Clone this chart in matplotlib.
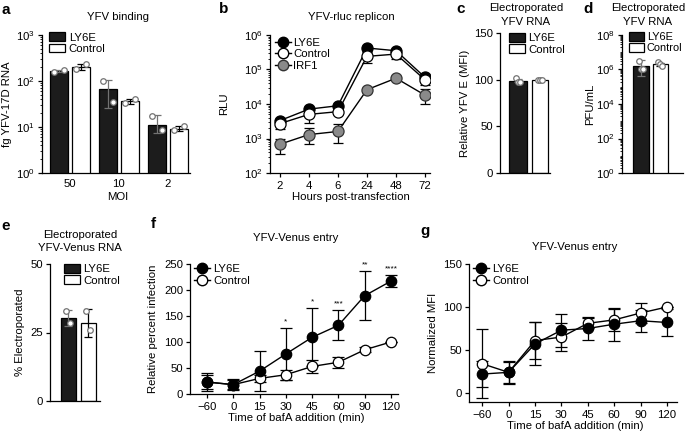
import numpy as np
import matplotlib
matplotlib.use("Agg")
import matplotlib.pyplot as plt
from matplotlib.patches import Patch
from matplotlib.lines import Line2D
from matplotlib.ticker import LogLocator, NullFormatter

FS = 8.2
plt.rcParams['font.family'] = ['Liberation Sans', 'DejaVu Sans']
plt.rcParams['font.size'] = FS
plt.rcParams['mathtext.fontset'] = 'custom'
plt.rcParams['mathtext.rm'] = 'Liberation Sans'
plt.rcParams['mathtext.default'] = 'regular'
plt.rcParams['axes.linewidth'] = 0.9
plt.rcParams['xtick.major.width'] = 0.9
plt.rcParams['ytick.major.width'] = 0.9
plt.rcParams['xtick.major.size'] = 3
plt.rcParams['ytick.major.size'] = 3
plt.rcParams['xtick.major.pad'] = 2
plt.rcParams['ytick.major.pad'] = 2

# ---- data ----
# a: YFV binding
moi = ["50", "10", "2"]
a_ly6e = [165, 66, 11]
a_ly6e_lo = [155, 26, 7.5]
a_ly6e_hi = [175, 106, 18]
a_ly6e_pts = [[158, 170], [100, 35], [17, 8.5]]
a_ctrl = [200, 36, 9]
a_ctrl_lo = [170, 31, 8]
a_ctrl_hi = [235, 41, 10.5]
a_ctrl_pts = [[185, 230], [33, 40], [8.5, 10.5]]

# b: YFV-rluc replicon
hours = ["2", "4", "6", "24", "48", "72"]
b_ly6e = [3300, 7100, 8900, 4.2e5, 3.5e5, 5.9e4]
b_ctrl = [2700, 5000, 6000, 2.4e5, 2.8e5, 5.0e4]
b_ctrl_lo = [1900, 2900, 5000, 1.5e5, 2.0e5, 3.5e4]
b_ctrl_hi = [3500, 7000, 7000, 3.3e5, 3.6e5, 6.5e4]
b_irf1 = [680, 1300, 1600, 2.6e4, 5.6e4, 1.8e4]
b_irf1_lo = [365, 680, 760, 2.2e4, 5.0e4, 1.0e4]
b_irf1_hi = [950, 1950, 2600, 3.0e4, 6.2e4, 2.7e4]

# c: electroporated YFV RNA (MFI)
c_vals = [99, 100]
c_err = [2, 0.5]
c_pts = [[102, 98, 98], [100, 100, 100]]

# d: electroporated YFV RNA (PFU)
d_vals = [1.7e6, 2.0e6]
d_lo = [4.0e5, 1.6e6]
d_hi = [3.5e6, 2.5e6]
d_pts = [[3.0e6, 1.0e6, 1.0e6], [2.6e6, 2.0e6, 1.7e6]]

# e: electroporated YFV-Venus RNA
e_vals = [30.3, 28.4]
e_err = [3, 5]
e_pts = [[33, 28.5], [33, 26]]

# f, g: YFV-Venus entry
times = ["\u221260", "0", "15", "30", "45", "60", "90", "120"]
f_ly6e = [23, 18, 44, 77, 109, 132, 189, 217]
f_ly6e_err = [18, 10, 39, 50, 56, 29, 47, 12]
f_ctrl = [23, 18, 30, 37, 53, 61, 85, 100]
f_ctrl_err = [14, 8, 6, 10, 13, 11, 5, 0]
f_stars = ["", "", "", "*", "*", "***", "**", "****"]

g_ly6e = [22, 24, 57, 73, 75, 80, 84, 82]
g_ly6e_err = [15, 12, 25, 19, 13, 19, 13, 16]
g_ctrl = [34, 24, 61, 65, 81, 85, 93, 100]
g_ctrl_err = [40, 13, 21, 16, 6, 13, 12, 0]

W, H = 685, 434
DARK = '#1c1c1c'
GREY = '#8a8a8a'

fig = plt.figure(figsize=(W / 100, H / 100), dpi=100)


def box(l, t, r, b):
    ax = fig.add_axes([l / W, 1 - b / H, (r - l) / W, (b - t) / H])
    ax.spines['top'].set_visible(False)
    ax.spines['right'].set_visible(False)
    ax._px = (l, t, r, b)
    return ax


def ftext(x, y, s, **kw):
    fig.text(x / W, 1 - y / H, s, ha='center', va='center', **kw)


def ylab(ax, s, px):
    l, t, r, b = ax._px
    ftext(px, (t + b) / 2, s, rotation=90)


def bar_pts(ax, x, vals, lo, hi, pts, face, ecol, width):
    ax.bar(x, vals, width, color=face, edgecolor='k', linewidth=0.9, zorder=1)
    vals = np.array(vals, float)
    ax.errorbar(x, vals, yerr=[vals - np.array(lo), np.array(hi) - vals], fmt='none',
                ecolor=ecol, elinewidth=0.9, capsize=3, capthick=0.9, zorder=2)
    for xi, p in zip(x, pts):
        offs = np.linspace(-0.1, 0.1, len(p)) if len(p) > 1 else [0]
        ax.plot(xi + np.array(offs), p, 'o', ms=4, mfc='white', mec='0.45', mew=0.9, zorder=3)


def bar_legend(ax, anchor, fs=FS, hlen=1.4):
    h = [Patch(facecolor=DARK, edgecolor='k', lw=0.9), Patch(facecolor='white', edgecolor='k', lw=0.9)]
    ax.legend(h, ['LY6E', 'Control'], loc='upper left', bbox_to_anchor=anchor, frameon=False,
              handlelength=hlen, handleheight=0.8, handletextpad=0.3, labelspacing=0.1,
              borderaxespad=0, borderpad=0, fontsize=fs)


def log_minor(ax, sub=np.arange(2, 10)):
    ax.yaxis.set_minor_locator(LogLocator(base=10, subs=sub, numticks=20))
    ax.yaxis.set_minor_formatter(NullFormatter())
    ax.tick_params(axis='y', which='minor', length=1.5, width=0.6)


# ---- a ----
ax = box(42, 35, 190, 173)
xa = np.arange(3)
bar_pts(ax, xa - 0.225, a_ly6e, a_ly6e_lo, a_ly6e_hi, a_ly6e_pts, DARK, '0.45', 0.37)
bar_pts(ax, xa + 0.225, a_ctrl, a_ctrl_lo, a_ctrl_hi, a_ctrl_pts, 'white', 'k', 0.37)
ax.set_yscale('log')
ax.set_ylim(1, 1000)
ax.set_yticks([1, 10, 100, 1000])
log_minor(ax)
ax.set_xlim(-0.57, 2.45)
ax.set_xticks(xa)
ax.set_xticklabels(moi)
ax.tick_params(axis='x', length=0, pad=4)
bar_legend(ax, (0.05, 1.02))
ftext(118, 17, 'YFV binding')
ftext(118, 197, 'MOI')
ylab(ax, 'fg YFV-17D RNA', 7)

# ---- b ----
ax = box(270, 35, 430, 173)
xb = np.arange(len(hours))
mk = dict(ms=8, mew=0.9, lw=1.0, zorder=3)
eb = dict(fmt='none', ecolor='k', elinewidth=0.9, capsize=3.5, capthick=0.9, zorder=2)
ax.errorbar(xb, b_irf1, yerr=[np.array(b_irf1) - b_irf1_lo, np.array(b_irf1_hi) - b_irf1], **eb)
ax.errorbar(xb, b_ctrl, yerr=[np.array(b_ctrl) - b_ctrl_lo, np.array(b_ctrl_hi) - b_ctrl], **eb)
ax.plot(xb, b_irf1, 'o-', color='k', mfc=GREY, mec='#333333', label='IRF1', **mk)
ax.plot(xb, b_ly6e, 'o-', color='k', mfc='k', mec='k', label='LY6E', **mk)
ax.plot(xb, b_ctrl, 'o-', color='k', mfc='white', mec='k', label='Control', **mk)
ax.set_yscale('log')
ax.set_ylim(100, 1e6)
ax.set_yticks([1e2, 1e3, 1e4, 1e5, 1e6])
log_minor(ax)
ax.set_xlim(-0.34, 5.17)
ax.set_xticks(xb)
ax.set_xticklabels(hours)
ax.tick_params(axis='x', pad=3)
hl = [Line2D([], [], color='k', marker='o', mfc=c, mec=e, ms=7.5, lw=1.0)
      for c, e in [('k', 'k'), ('white', 'k'), (GREY, '#333333')]]
ax.legend(hl, ['LY6E', 'Control', 'IRF1'], loc='upper left', bbox_to_anchor=(0.03, 0.98),
          frameon=False, handlelength=1.4, handletextpad=0.2, labelspacing=0.15,
          borderaxespad=0, borderpad=0, fontsize=FS)
ftext(351, 17, 'YFV-rluc replicon')
ftext(351, 197, 'Hours post-transfection')
ylab(ax, 'RLU', 224)

# ---- c ----
ax = box(500, 33, 550, 173)
xc = np.arange(2)
bar_pts(ax, xc[:1], c_vals[:1], [c_vals[0] - c_err[0]], [c_vals[0] + c_err[0]], c_pts[:1], DARK, '0.45', 0.78)
bar_pts(ax, xc[1:], c_vals[1:], [c_vals[1] - c_err[1]], [c_vals[1] + c_err[1]], c_pts[1:], 'white', 'k', 0.7)
ax.set_ylim(0, 150)
ax.set_yticks([0, 50, 100, 150])
ax.set_xlim(-0.82, 1.45)
ax.set_xticks([])
bar_legend(ax, (0.18, 1.0))
ftext(526, 8, 'Electroporated')
ftext(526, 22, 'YFV RNA')
ylab(ax, 'Relative YFV E (MFI)', 465)

# ---- d ----
ax = box(622, 35, 683, 173)
xd = np.arange(2)
bar_pts(ax, xd[:1], d_vals[:1], d_lo[:1], d_hi[:1], d_pts[:1], DARK, '0.45', 0.84)
bar_pts(ax, xd[1:], d_vals[1:], d_lo[1:], d_hi[1:], d_pts[1:], 'white', 'k', 0.8)
ax.set_yscale('log')
ax.set_ylim(1, 1e8)
ax.set_yticks([1, 1e2, 1e4, 1e6, 1e8])
log_minor(ax, sub=np.arange(1, 10))
ax.set_xlim(-1.0, 2.2)
ax.set_xticks([])
bar_legend(ax, (0.12, 1.02), fs=7.9, hlen=1.3)
ftext(648, 8, 'Electroporated')
ftext(648, 22, 'YFV RNA')
ylab(ax, 'PFU/mL', 590)

# ---- e ----
ax = box(50, 264, 100, 401)
xe = np.arange(2)
bar_pts(ax, xe[:1], e_vals[:1], [e_vals[0] - e_err[0]], [e_vals[0] + e_err[0]], e_pts[:1], DARK, '0.45', 0.75)
bar_pts(ax, xe[1:], e_vals[1:], [e_vals[1] - e_err[1]], [e_vals[1] + e_err[1]], e_pts[1:], 'white', 'k', 0.75)
ax.set_ylim(0, 50)
ax.set_yticks([0, 25, 50])
ax.set_xlim(-0.9, 1.6)
ax.set_xticks([])
bar_legend(ax, (0.28, 1.0))
ftext(80, 235, 'Electroporated')
ftext(80, 248, 'YFV-Venus RNA')
ylab(ax, '% Electroporated', 20)


# ---- f, g ----
def entry_panel(ax, ly, lye, ct, cte):
    x = np.arange(len(times))
    e = dict(fmt='none', ecolor='k', elinewidth=0.9, capsize=4, capthick=0.9, zorder=2)
    ax.errorbar(x, ct, yerr=cte, **e)
    ax.errorbar(x, ly, yerr=lye, **e)
    m = dict(ms=7.5, mew=0.9, lw=1.0, zorder=3)
    ax.plot(x, ct, 'o-', color='k', mfc='white', mec='k', **m)
    ax.plot(x, ly, 'o-', color='k', mfc='k', mec='k', **m)
    ax.set_xticks(x)
    ax.set_xticklabels(times)
    ax.tick_params(axis='x', pad=3)
    hl = [Line2D([], [], color='k', marker='o', mfc=c, mec='k', ms=7.5, lw=1.0) for c in ['k', 'white']]
    ax.legend(hl, ['LY6E', 'Control'], loc='upper left', bbox_to_anchor=(0.02, 1.0),
              frameon=False, handlelength=1.4, handletextpad=0.25, labelspacing=0.15,
              borderaxespad=0, borderpad=0, fontsize=FS)
    return x


ax = box(190, 264, 398, 394)
xf = entry_panel(ax, f_ly6e, f_ly6e_err, f_ctrl, f_ctrl_err)
for xi, v, er, s in zip(xf, f_ly6e, f_ly6e_err, f_stars):
    if s:
        ax.annotate(s, (xi, v + er), xytext=(0, 2), textcoords='offset points',
                    ha='center', va='bottom', fontsize=6)
ax.set_ylim(0, 250)
ax.set_yticks([0, 50, 100, 150, 200, 250])
ax.set_xlim(-0.65, 7.27)
ftext(296, 238, 'YFV-Venus entry')
ftext(296, 418, 'Time of bafA addition (min)')
ylab(ax, 'Relative percent infection', 153)

ax = box(469, 264, 677, 402)
entry_panel(ax, g_ly6e, g_ly6e_err, g_ctrl, g_ctrl_err)
ax.set_ylim(-10.5, 150)
ax.set_yticks([0, 50, 100, 150])
ax.set_xlim(-0.5, 7.38)
ftext(575, 247, 'YFV-Venus entry')
ftext(575, 426, 'Time of bafA addition (min)')
ylab(ax, 'Normalized MFI', 433)

# panel letters
for s, x, y in [('a', 6, 10), ('b', 224, 9), ('c', 461, 9), ('d', 588, 9),
                ('e', 6, 226), ('f', 153, 224), ('g', 425, 231)]:
    ftext(x, y, s, fontsize=11, fontweight='bold')

fig.savefig('out.png', dpi=100)
